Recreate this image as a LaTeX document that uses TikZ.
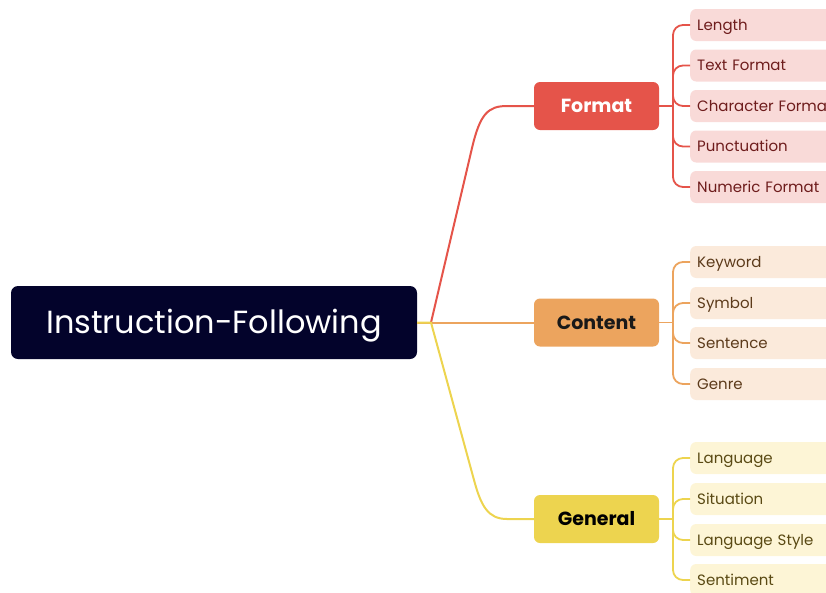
\documentclass[tikz,border=0pt]{standalone}
\usepackage{fontspec}
\setmainfont{Poppins}[Ligatures=NoCommon]
\definecolor{rootc}{HTML}{03032B}
\definecolor{redc}{HTML}{E5544A}
\definecolor{orac}{HTML}{ECA45E}
\definecolor{yelc}{HTML}{EDD44F}
\definecolor{redl}{HTML}{F9DAD8}
\definecolor{oral}{HTML}{FBEADB}
\definecolor{yell}{HTML}{FDF5D6}
\definecolor{redt}{HTML}{6E1C1C}
\definecolor{orat}{HTML}{5C3A1A}
\definecolor{yelt}{HTML}{5A4A14}
\tikzset{
  rootbox/.style={fill=rootc, rounded corners=7pt, minimum width=406pt, minimum height=73pt, text=white, font=\fontsize{32}{38}\selectfont, inner sep=0pt, text height=22.4pt, text depth=0pt},
  branchbox/.style={rounded corners=6pt, minimum width=125pt, minimum height=48pt, font=\fontsize{19}{23}\selectfont\bfseries, inner sep=0pt, text height=13.3pt, text depth=0pt},
  leafbox/.style={rounded corners=6pt, anchor=west, minimum height=32pt, text width=146pt, inner xsep=7pt, inner ysep=0pt, align=left, font=\fontsize{15}{18}\selectfont, text height=10.5pt, text depth=0pt},
  trunk/.style={line width=1.8pt, rounded corners=10pt},
  mainline/.style={line width=2pt}
}
\begin{document}
\begin{tikzpicture}[x=1pt,y=-1pt]
\useasboundingbox (0,0) rectangle (826,592);
\clip (0,0) rectangle (826,592);
% root and branches
\node[rootbox] (root) at (214,322.5) {Instruction-Following};
\node[branchbox, fill=redc, text=white] (fmt) at (596.5,106) {Format};
\node[branchbox, fill=orac, text=black!90] (cnt) at (596.5,322.5) {Content};
\node[branchbox, fill=yelc, text=black] (gen) at (596.5,519) {General};
\coordinate (j) at (431,322.5);
% main connectors
\draw[mainline, orac] (root.east) -- (cnt.west);
\draw[mainline, redc] (j) -- (472,148) .. controls (480,114) and (488,106) .. (507,106) -- (fmt.west);
\draw[mainline, yelc] (root.east) -- (j) -- (474,480) .. controls (481,506) and (488,519) .. (507,519) -- (gen.west);
% trunk junctions
\coordinate (fj) at (673,106);
\coordinate (cj) at (673,322.5);
\coordinate (gj) at (673,519);
\draw[trunk, redc] (fmt.east) -- (fj);
\draw[trunk, orac] (cnt.east) -- (cj);
\draw[trunk, yelc] (gen.east) -- (gj);
% Format leaves
\node[leafbox, fill=redl, text=redt] (f1) at (690,25) {Length};
\node[leafbox, fill=redl, text=redt] (f2) at (690,65.5) {Text Format};
\node[leafbox, fill=redl, text=redt] (f3) at (690,106) {Character Format};
\node[leafbox, fill=redl, text=redt] (f4) at (690,146.5) {Punctuation};
\node[leafbox, fill=redl, text=redt] (f5) at (690,187) {Numeric Format};
\foreach \l in {f1,f2,f3,f4,f5}
  \draw[trunk, redc] (fj) |- (\l.west);
% Content leaves
\node[leafbox, fill=oral, text=orat] (c1) at (690,262) {Keyword};
\node[leafbox, fill=oral, text=orat] (c2) at (690,303) {Symbol};
\node[leafbox, fill=oral, text=orat] (c3) at (690,343) {Sentence};
\node[leafbox, fill=oral, text=orat] (c4) at (690,384) {Genre};
\foreach \l in {c1,c2,c3,c4}
  \draw[trunk, orac] (cj) |- (\l.west);
% General leaves
\node[leafbox, fill=yell, text=yelt] (g1) at (690,458) {Language};
\node[leafbox, fill=yell, text=yelt] (g2) at (690,499) {Situation};
\node[leafbox, fill=yell, text=yelt] (g3) at (690,540) {Language Style};
\node[leafbox, fill=yell, text=yelt] (g4) at (690,580) {Sentiment};
\foreach \l in {g1,g2,g3,g4}
  \draw[trunk, yelc] (gj) |- (\l.west);
\end{tikzpicture}
\end{document}
